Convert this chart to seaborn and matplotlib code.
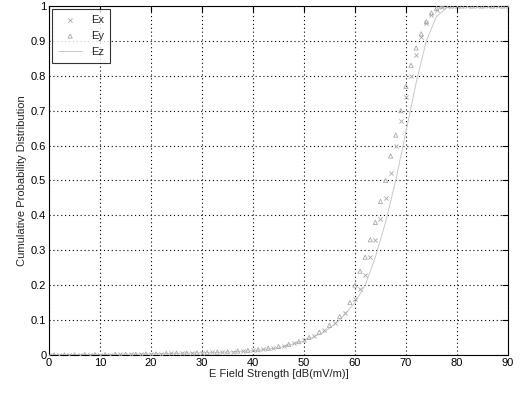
import numpy as np
import pandas as pd
import matplotlib
matplotlib.use("Agg")
import matplotlib.pyplot as plt
import seaborn as sns

# valores (CDF del campo E)
ex_x = [0, 2, 4, 6, 8, 10, 12, 14, 16, 18, 20, 22, 24, 26, 28, 30, 32, 34, 36, 38, 40,
        42, 44, 46, 48, 50, 52, 54, 56, 58, 60, 61, 62, 63, 64, 65, 66, 67, 68, 69, 70,
        71, 72, 73, 74, 75, 76, 77, 78, 80, 82, 84, 86, 88, 90]
ex_y = [0, 0, 0, 0, 0.001, 0.001, 0.001, 0.002, 0.002, 0.002, 0.003, 0.003, 0.004, 0.004,
        0.005, 0.006, 0.007, 0.008, 0.009, 0.011, 0.013, 0.016, 0.02, 0.026, 0.033, 0.042,
        0.055, 0.07, 0.09, 0.12, 0.16, 0.19, 0.23, 0.28, 0.33, 0.39, 0.45, 0.52, 0.6, 0.67,
        0.74, 0.8, 0.86, 0.91, 0.95, 0.975, 0.99, 0.997, 1, 1, 1, 1, 1, 1, 1]

ey_x = [1, 3, 5, 7, 9, 11, 13, 15, 17, 19, 21, 23, 25, 27, 29, 31, 33, 35, 37, 39, 41,
        43, 45, 47, 49, 51, 53, 55, 57, 59, 60, 61, 62, 63, 64, 65, 66, 67, 68, 69, 70,
        71, 72, 73, 74, 75, 76, 77, 79, 81, 83, 85, 87, 89]
ey_y = [0, 0, 0, 0.001, 0.001, 0.001, 0.002, 0.002, 0.002, 0.003, 0.003, 0.004, 0.005,
        0.005, 0.006, 0.007, 0.008, 0.009, 0.011, 0.013, 0.015, 0.019, 0.024, 0.03, 0.038,
        0.05, 0.065, 0.085, 0.11, 0.15, 0.2, 0.24, 0.28, 0.33, 0.38, 0.44, 0.5, 0.57, 0.63,
        0.7, 0.77, 0.83, 0.88, 0.92, 0.955, 0.98, 0.993, 1, 1, 1, 1, 1, 1, 1]

ez_x = [0, 10, 20, 30, 35, 40, 45, 50, 54, 57, 60, 62, 64, 66, 68, 70, 72, 74, 76, 78, 80, 90]
ez_y = [0, 0.001, 0.003, 0.006, 0.008, 0.012, 0.02, 0.04, 0.065, 0.1, 0.15, 0.2, 0.28,
        0.38, 0.5, 0.64, 0.78, 0.9, 0.97, 0.995, 1, 1]

x_ticks = [0, 10, 20, 30, 40, 50, 60, 70, 80, 90]
y_ticks = [0, 0.1, 0.2, 0.3, 0.4, 0.5, 0.6, 0.7, 0.8, 0.9, 1]
y_tick_labels = ["0", "0.1", "0.2", "0.3", "0.4", "0.5", "0.6", "0.7", "0.8", "0.9", "1"]

sns.set_style("white")
plt.rcParams["font.family"] = ["Liberation Sans", "DejaVu Sans"]

df_ex = pd.DataFrame({"E": ex_x, "P": ex_y})
df_ey = pd.DataFrame({"E": ey_x, "P": ey_y})
df_ez = pd.DataFrame({"E": ez_x, "P": ez_y})

fig = plt.figure(figsize=(5.22, 4.01), dpi=100)
ax = fig.add_axes([0.094, 0.115, 0.879, 0.87])

gris = "#a8a8a8"
sns.lineplot(data=df_ez, x="E", y="P", color="#c8c8c8", linewidth=0.7, ax=ax, label="Ez")
sns.scatterplot(data=df_ex, x="E", y="P", marker="x", color=gris, s=9, linewidth=0.6,
                ax=ax, label="Ex", zorder=3)
sns.scatterplot(data=df_ey, x="E", y="P", marker="^", facecolor="none", edgecolor=gris,
                s=9, linewidth=0.6, ax=ax, label="Ey", zorder=3)

ax.set_xlim(0, 90)
ax.set_ylim(0, 1)
ax.set_xticks(x_ticks)
ax.set_yticks(y_ticks)
ax.set_yticklabels(y_tick_labels)
ax.tick_params(direction="in", top=True, right=True, length=4, width=0.8,
               labelsize=8, colors="black", pad=2)
ax.grid(True, color="black", linestyle=(0, (1, 2.5)), linewidth=0.8)
for s in ax.spines.values():
    s.set_color("black")
    s.set_linewidth(0.8)

ax.set_xlabel("E Field Strength [dB(mV/m)]", fontsize=8, labelpad=1)
ax.set_ylabel("Cumulative Probability Distribution", fontsize=8, labelpad=3)

h, l = ax.get_legend_handles_labels()
orden = [l.index("Ex"), l.index("Ey"), l.index("Ez")]
leg = ax.legend([h[i] for i in orden], [l[i] for i in orden], loc="upper left",
                fontsize=8, frameon=True, fancybox=False, edgecolor="black",
                borderaxespad=0.3, handlelength=2.2, labelspacing=0.55,
                borderpad=0.5)
leg.get_frame().set_linewidth(0.8)

plt.savefig("out.png", dpi=100)
plt.close()
